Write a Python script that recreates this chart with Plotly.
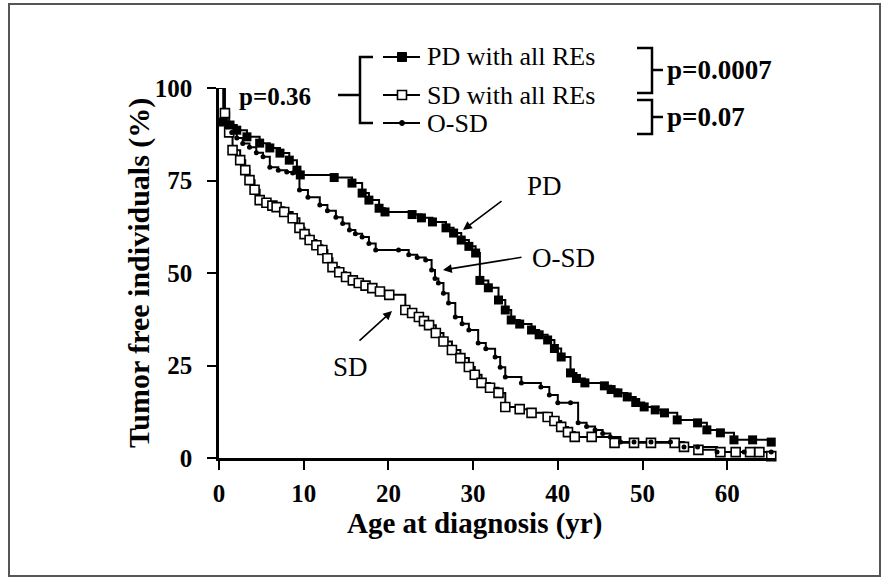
import plotly.graph_objects as go

# ---------------- data ----------------
pd_age = [0, 0.5, 1.3, 2.1, 3.3, 4.8, 6.0, 7.2, 8.3, 9.2, 9.6, 13.6, 15.7, 16.9, 17.7, 18.9, 19.6,
          22.8, 23.9, 25.2, 26.8, 27.7, 28.6, 29.5, 30.3, 30.8, 31.8, 33.0, 33.8, 34.5, 35.5, 36.9,
          37.8, 38.8, 39.6, 40.4, 41.5, 42.2, 43.2, 45.5, 46.3, 47.1, 48.2, 49.2, 50.2, 51.5, 52.6,
          54.1, 56.5, 57.6, 59.2, 60.8, 63.0, 65.2]
pd_surv = [100, 90.8, 90.0, 88.6, 86.8, 85.1, 83.8, 82.4, 80.5, 77.8, 76.5, 75.8, 74.3, 71.6, 69.7, 67.5, 66.5,
           65.8, 64.9, 63.8, 62.2, 60.8, 58.9, 57.2, 55.4, 48.0, 46.0, 42.7, 40.0, 37.3, 36.2, 34.6,
           33.3, 31.9, 29.6, 27.3, 23.0, 21.5, 20.3, 19.5, 18.5, 17.6, 16.5, 15.0, 13.8, 13.0, 12.2,
           10.3, 9.5, 7.6, 6.8, 4.9, 4.9, 4.3]

osd_age = [0, 0.6, 0.9, 1.5, 2.1, 2.8, 3.6, 4.4, 5.2, 6.0, 7.0, 8.0, 8.7, 9.5, 10.5, 11.9, 12.8, 13.8,
           14.6, 15.4, 16.1, 16.9, 17.7, 18.5, 21.2, 22.4, 23.4, 24.4, 25.1, 25.5, 25.9, 26.5, 27.1,
           27.9, 28.7, 29.5, 30.6, 31.5, 32.6, 33.2, 33.8, 35.7, 38.0, 39.0, 40.0, 41.5, 42.4, 43.4,
           44.4, 45.3, 46.2, 47.4, 49.0, 51.0, 53.3, 54.9, 56.5, 58.8, 62.0, 65.2]
osd_surv = [100, 91.5, 89.5, 88.0, 86.5, 85.0, 84.0, 82.5, 81.4, 78.6, 77.8, 77.3, 77.0, 72.4, 70.5, 68.4, 66.8, 65.1,
            63.4, 61.6, 60.6, 59.7, 58.0, 56.2, 56.2, 54.9, 54.2, 53.5, 50.8, 48.5, 47.3, 44.5, 41.9,
            38.1, 36.3, 34.6, 31.1, 29.5, 27.3, 24.5, 21.9, 20.3, 19.2, 17.0, 14.9, 14.9, 9.5, 8.5,
            7.6, 6.6, 5.7, 4.3, 4.3, 4.3, 4.3, 3.0, 3.0, 1.6, 1.6, 1.6]

sd_age = [0, 0.7, 1.2, 1.6, 2.5, 3.1, 3.6, 4.2, 4.8, 5.6, 6.3, 6.8, 7.7, 8.7, 9.5, 10.1, 10.7, 11.5,
          12.2, 12.8, 13.4, 14.2, 15.0, 15.8, 16.5, 17.3, 18.1, 19.0, 20.1, 22.0, 22.8, 23.6, 24.2,
          24.8, 25.6, 26.5, 27.5, 28.5, 29.5, 30.2, 31.0, 32.0, 33.0, 33.8, 35.5, 36.9, 38.8, 39.6,
          40.4, 41.2, 42.0, 44.0, 46.7, 49.0, 51.0, 53.8, 54.9, 56.6, 59.2, 61.0, 62.7, 63.8, 65.2]
sd_surv = [100, 93.2, 88.0, 83.2, 80.5, 77.8, 75.1, 72.5, 69.7, 69.0, 68.2, 67.8, 66.5, 64.8, 62.2, 60.5, 58.9, 57.5,
           56.2, 54.0, 51.6, 50.2, 48.9, 48.0, 47.3, 46.6, 45.9, 45.0, 44.1, 40.0, 39.2, 38.1, 37.0,
           35.9, 33.8, 31.5, 29.2, 27.0, 24.6, 22.5, 20.3, 19.0, 17.6, 13.8, 13.2, 12.2, 11.1, 10.0,
           8.4, 7.0, 5.7, 5.7, 4.1, 4.1, 4.1, 4.1, 3.0, 2.2, 1.6, 1.6, 1.6, 1.6, 0.5]

x_ticks = [0, 10, 20, 30, 40, 50, 60]
y_ticks = [0, 25, 50, 75, 100]

x_title = "Age at diagnosis (yr)"
y_title = "Tumor free individuals (%)"
legend_labels = ["PD with all REs", "SD with all REs", "O-SD"]
p_values = ["p=0.36", "p=0.0007", "p=0.07"]
curve_labels = ["PD", "O-SD", "SD"]

# ---------------- layout helpers (pixel -> paper) ----------------
W, H = 886, 578
L, R, T, B = 219, 110, 88, 120
PW, PH = W - L - R, H - T - B
FONT = "Liberation Serif"


def px(x):
    return (x - L) / PW


def py(y):
    return (H - B - y) / PH


def path(points):
    s = ""
    for i, (x, y) in enumerate(points):
        s += ("M " if i == 0 else " L ") + f"{px(x):.5f},{py(y):.5f}"
    return s


fig = go.Figure()

series = [
    (sd_age, sd_surv, dict(symbol="square", size=9, color="white", line=dict(color="black", width=1.6))),
    (osd_age, osd_surv, dict(symbol="circle", size=5, color="black")),
    (pd_age, pd_surv, dict(symbol="square", size=9, color="black")),
]
for xs, ys, mk in series:
    fig.add_trace(go.Scatter(x=xs, y=ys, mode="lines", line=dict(shape="hv", color="black", width=2),
                             showlegend=False, hoverinfo="skip"))
for xs, ys, mk in series:
    fig.add_trace(go.Scatter(x=xs[1:], y=ys[1:], mode="markers", marker=mk, cliponaxis=False,
                             showlegend=False))

shapes = []
lw = 2.5
# outer frame
shapes.append(dict(type="rect", xref="paper", yref="paper", x0=px(9), y0=py(4), x1=px(880), y1=py(576),
                   line=dict(color="#555555", width=2)))
# left bracket of the legend
shapes.append(dict(type="path", xref="paper", yref="paper", path=path([(373, 57), (360, 57), (360, 123), (373, 123)]),
                   line=dict(color="black", width=lw)))
shapes.append(dict(type="path", xref="paper", yref="paper", path=path([(338, 95), (360, 95)]),
                   line=dict(color="black", width=lw)))
# right brackets
shapes.append(dict(type="path", xref="paper", yref="paper", path=path([(637, 48), (652, 48), (652, 93), (637, 93)]),
                   line=dict(color="black", width=lw)))
shapes.append(dict(type="path", xref="paper", yref="paper", path=path([(652, 70), (663, 70)]),
                   line=dict(color="black", width=lw)))
shapes.append(dict(type="path", xref="paper", yref="paper", path=path([(637, 100), (652, 100), (652, 134), (637, 134)]),
                   line=dict(color="black", width=lw)))
shapes.append(dict(type="path", xref="paper", yref="paper", path=path([(652, 117), (663, 117)]),
                   line=dict(color="black", width=lw)))
# legend samples
leg_y = [57, 95, 123]
for yy in leg_y:
    shapes.append(dict(type="path", xref="paper", yref="paper", path=path([(383, yy), (420, yy)]),
                       line=dict(color="black", width=2)))
shapes.append(dict(type="rect", xref="paper", yref="paper", x0=px(397.5), x1=px(406.5), y0=py(52.5), y1=py(61.5),
                   fillcolor="black", line=dict(color="black", width=1)))
shapes.append(dict(type="rect", xref="paper", yref="paper", x0=px(397.5), x1=px(406.5), y0=py(90.5), y1=py(99.5),
                   fillcolor="white", line=dict(color="black", width=1.6)))
shapes.append(dict(type="circle", xref="paper", yref="paper", x0=px(399.5), x1=px(404.5), y0=py(120.5), y1=py(125.5),
                   fillcolor="black", line=dict(color="black", width=1)))

ann = []
# axis titles
ann.append(dict(text=x_title, xref="paper", yref="paper", x=px(474), y=py(523), xanchor="center", yanchor="middle",
                showarrow=False, font=dict(family=FONT, size=29, color="black", weight="bold")))
ann.append(dict(text=y_title, xref="paper", yref="paper", x=px(139), y=py(273), xanchor="center", yanchor="middle",
                textangle=-90, showarrow=False, font=dict(family=FONT, size=30, color="black", weight="bold")))
for lab, yy in zip(legend_labels, leg_y):
    ann.append(dict(text=lab, xref="paper", yref="paper", x=px(425), y=py(yy), xanchor="left", yanchor="middle",
                    showarrow=False, font=dict(family=FONT, size=26, color="black")))
for lab, (xx, yy, anc, sz) in zip(p_values, [(313, 97, "right", 25), (665, 70, "left", 27), (665, 117, "left", 27)]):
    ann.append(dict(text=lab, xref="paper", yref="paper", x=px(xx), y=py(yy), xanchor=anc, yanchor="middle",
                    showarrow=False, font=dict(family=FONT, size=sz, color="black", weight="bold")))
for lab, (xx, yy) in zip(curve_labels, [(544, 186), (563, 258), (350, 367)]):
    ann.append(dict(text=lab, xref="paper", yref="paper", x=px(xx), y=py(yy), xanchor="center", yanchor="middle",
                    showarrow=False, font=dict(family=FONT, size=27, color="black")))
# arrows: head -> tail
for (hx, hy), (tx, ty) in [((463, 230), (503, 200)), ((443, 270), (523, 257)), ((392, 311), (358, 342))]:
    ann.append(dict(text="", xref="paper", yref="paper", x=px(hx), y=py(hy), ax=tx - hx, ay=ty - hy,
                    axref="pixel", ayref="pixel", showarrow=True, arrowhead=2, arrowsize=1.1,
                    arrowwidth=1.6, arrowcolor="black", standoff=0))

fig.update_layout(
    width=W, height=H,
    margin=dict(l=L, r=R, t=T, b=B, pad=0),
    paper_bgcolor="white", plot_bgcolor="white",
    shapes=shapes, annotations=ann,
    font=dict(family=FONT, color="black"),
    xaxis=dict(range=[0, PW / 8.47], tickvals=x_ticks, ticktext=[str(v) for v in x_ticks],
               showline=True, linecolor="black", linewidth=2.5, ticks="outside", ticklen=9, tickwidth=2,
               tickcolor="black", showgrid=False, zeroline=False, ticklabelstandoff=2,
               tickfont=dict(family=FONT, size=25, color="black", weight="bold")),
    yaxis=dict(range=[0, 100], tickvals=y_ticks, ticktext=[str(v) for v in y_ticks],
               showline=True, linecolor="black", linewidth=2.5, ticks="outside", ticklen=9, tickwidth=2,
               tickcolor="black", showgrid=False, zeroline=False, ticklabelstandoff=10,
               tickfont=dict(family=FONT, size=25, color="black", weight="bold")),
)

fig.write_html("out.html", config={"displayModeBar": False},
               post_script="document.body.style.margin='0';document.body.style.overflow='hidden';")
